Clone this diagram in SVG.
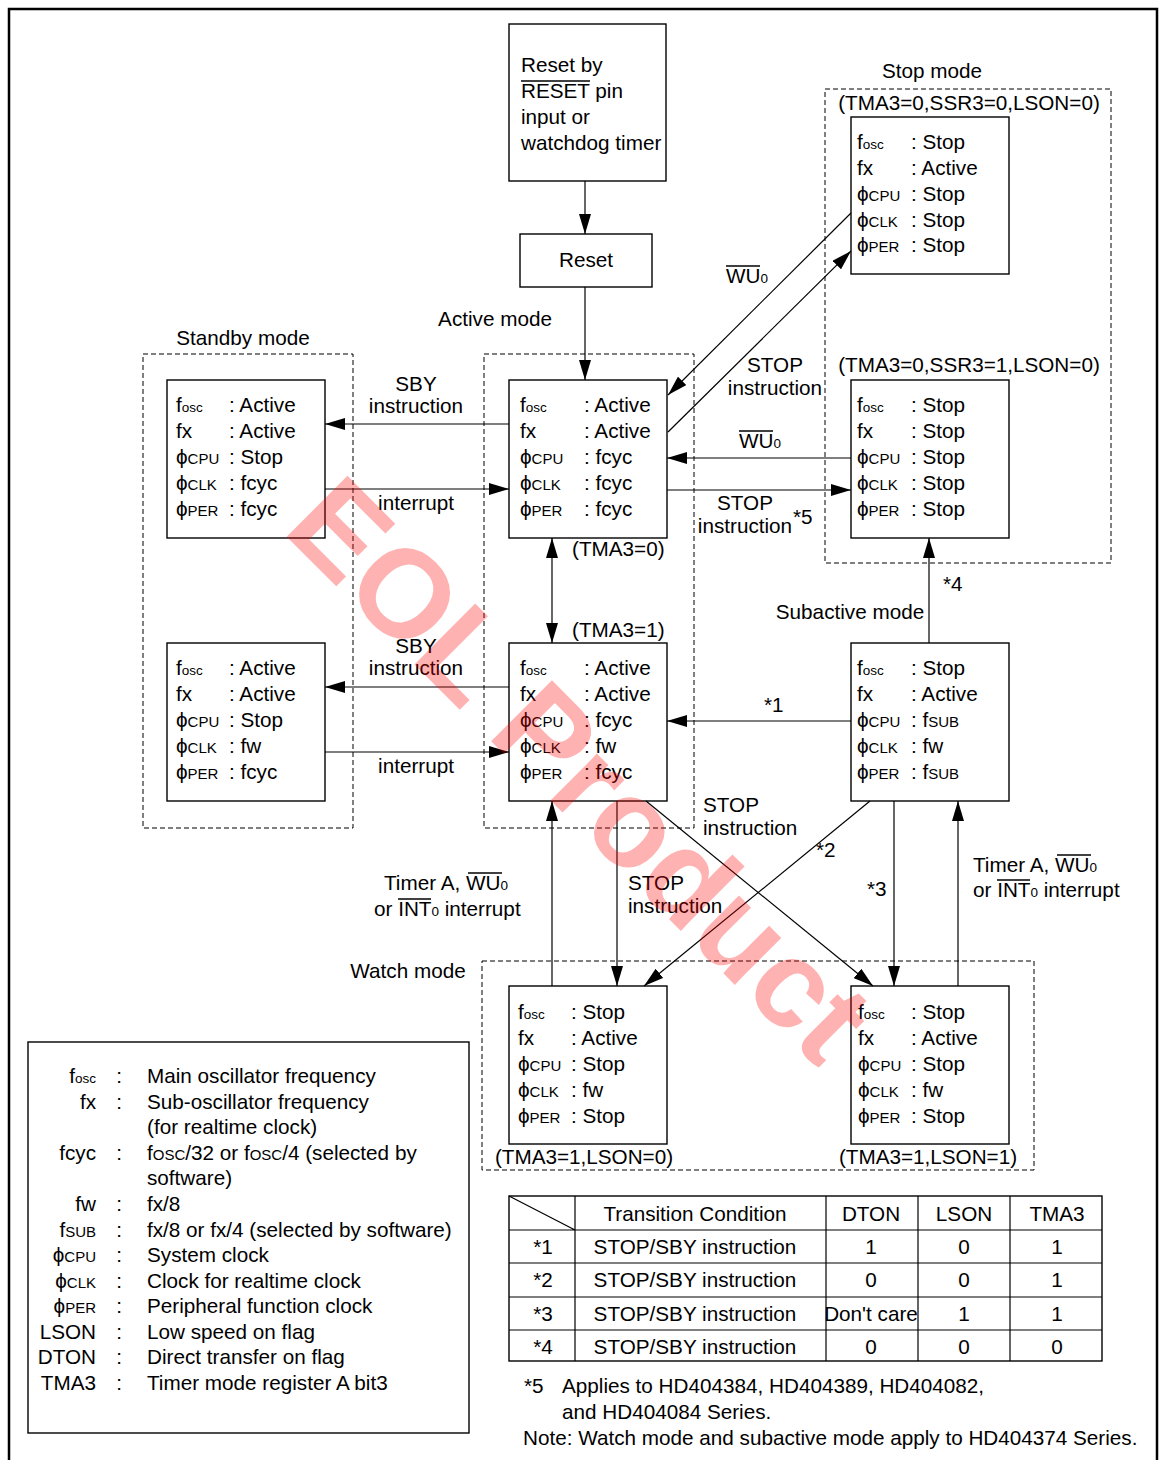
<svg xmlns="http://www.w3.org/2000/svg" width="1159" height="1460" viewBox="0 0 1159 1460">
<style>
text{font-family:"Liberation Sans",Arial,sans-serif;font-size:20.7px;fill:#000}
.s{font-size:13.5px}
.c{font-size:15px}
.m{text-anchor:middle}
.e{text-anchor:end}
.ov{fill:none;stroke:#000;stroke-width:1.3}
.box{fill:#fff;stroke:#000;stroke-width:1.4}
.dash{fill:none;stroke:#000;stroke-width:1;stroke-dasharray:5 3}
.ln{fill:none;stroke:#000;stroke-width:1.2}
.ar{marker-end:url(#ah)}
.wm{font-size:125px;font-weight:bold;fill:#ff0000;fill-opacity:0.3}
</style>
<defs>
<marker id="ah" markerUnits="userSpaceOnUse" markerWidth="20" markerHeight="12" viewBox="0 0 20 12" refX="20" refY="6" orient="auto-start-reverse"><path d="M0,0 L20,6 L0,12 z" fill="#000"/></marker>
</defs>
<rect width="1159" height="1460" fill="#fff"/>
<path d="M9,1460 V9 H1157 V1460" fill="none" stroke="#000" stroke-width="2.5"/>

<g id="mode-frames">
<rect class="dash" x="143" y="354" width="210" height="474"/>
<rect class="dash" x="484" y="354" width="210" height="474"/>
<rect class="dash" x="825" y="89" width="286" height="474"/>
<rect class="dash" x="482" y="961" width="552" height="209"/>
<text x="243" y="345" class="m">Standby mode</text>
<text x="495" y="326" class="m">Active mode</text>
<text x="932" y="78" class="m">Stop mode</text>
<text x="969" y="110" class="m">(TMA3=0,SSR3=0,LSON=0)</text>
<text x="969" y="372" class="m">(TMA3=0,SSR3=1,LSON=0)</text>
<text x="850" y="619" class="m">Subactive mode</text>
<text x="408" y="978" class="m">Watch mode</text>
<text x="584" y="1164" class="m">(TMA3=1,LSON=0)</text>
<text x="928" y="1164" class="m">(TMA3=1,LSON=1)</text>
<text x="572" y="556">(TMA3=0)</text>
<text x="572" y="637">(TMA3=1)</text>
</g>

<g id="reset-by">
<rect class="box" x="509" y="24" width="157" height="157"/>
<text x="521" y="72">Reset by</text>
<text x="521" y="98">RESET pin</text>
<line class="ov" x1="521" y1="81" x2="590" y2="81"/>
<text x="521" y="124">input or</text>
<text x="521" y="150">watchdog timer</text>
</g>

<g id="reset">
<rect class="box" x="520" y="234" width="132" height="53"/>
<text x="586" y="267" class="m">Reset</text>
</g>

<g id="standby-1">
<rect class="box" x="167" y="380" width="158" height="158"/>
<text x="176" y="412">f<tspan class="s">osc</tspan></text><text x="229" y="412">: Active</text>
<text x="176" y="438">fx</text><text x="229" y="438">: Active</text>
<text x="176" y="464">ϕ<tspan class="c">CPU</tspan></text><text x="229" y="464">: Stop</text>
<text x="176" y="490">ϕ<tspan class="c">CLK</tspan></text><text x="229" y="490">: fcyc</text>
<text x="176" y="516">ϕ<tspan class="c">PER</tspan></text><text x="229" y="516">: fcyc</text>
</g>

<g id="standby-2">
<rect class="box" x="167" y="643" width="158" height="158"/>
<text x="176" y="675">f<tspan class="s">osc</tspan></text><text x="229" y="675">: Active</text>
<text x="176" y="701">fx</text><text x="229" y="701">: Active</text>
<text x="176" y="727">ϕ<tspan class="c">CPU</tspan></text><text x="229" y="727">: Stop</text>
<text x="176" y="753">ϕ<tspan class="c">CLK</tspan></text><text x="229" y="753">: fw</text>
<text x="176" y="779">ϕ<tspan class="c">PER</tspan></text><text x="229" y="779">: fcyc</text>
</g>

<g id="active-1">
<rect class="box" x="509" y="380" width="158" height="158"/>
<text x="520" y="412">f<tspan class="s">osc</tspan></text><text x="584" y="412">: Active</text>
<text x="520" y="438">fx</text><text x="584" y="438">: Active</text>
<text x="520" y="464">ϕ<tspan class="c">CPU</tspan></text><text x="584" y="464">: fcyc</text>
<text x="520" y="490">ϕ<tspan class="c">CLK</tspan></text><text x="584" y="490">: fcyc</text>
<text x="520" y="516">ϕ<tspan class="c">PER</tspan></text><text x="584" y="516">: fcyc</text>
</g>

<g id="active-2">
<rect class="box" x="509" y="643" width="158" height="158"/>
<text x="520" y="675">f<tspan class="s">osc</tspan></text><text x="584" y="675">: Active</text>
<text x="520" y="701">fx</text><text x="584" y="701">: Active</text>
<text x="520" y="727">ϕ<tspan class="c">CPU</tspan></text><text x="584" y="727">: fcyc</text>
<text x="520" y="753">ϕ<tspan class="c">CLK</tspan></text><text x="584" y="753">: fw</text>
<text x="520" y="779">ϕ<tspan class="c">PER</tspan></text><text x="584" y="779">: fcyc</text>
</g>

<g id="stop-1">
<rect class="box" x="851" y="117" width="158" height="157"/>
<text x="857" y="149">f<tspan class="s">osc</tspan></text><text x="911" y="149">: Stop</text>
<text x="857" y="175">fx</text><text x="911" y="175">: Active</text>
<text x="857" y="201">ϕ<tspan class="c">CPU</tspan></text><text x="911" y="201">: Stop</text>
<text x="857" y="227">ϕ<tspan class="c">CLK</tspan></text><text x="911" y="227">: Stop</text>
<text x="857" y="252">ϕ<tspan class="c">PER</tspan></text><text x="911" y="252">: Stop</text>
</g>

<g id="stop-2">
<rect class="box" x="851" y="380" width="158" height="158"/>
<text x="857" y="412">f<tspan class="s">osc</tspan></text><text x="911" y="412">: Stop</text>
<text x="857" y="438">fx</text><text x="911" y="438">: Stop</text>
<text x="857" y="464">ϕ<tspan class="c">CPU</tspan></text><text x="911" y="464">: Stop</text>
<text x="857" y="490">ϕ<tspan class="c">CLK</tspan></text><text x="911" y="490">: Stop</text>
<text x="857" y="516">ϕ<tspan class="c">PER</tspan></text><text x="911" y="516">: Stop</text>
</g>

<g id="subactive">
<rect class="box" x="851" y="643" width="158" height="158"/>
<text x="857" y="675">f<tspan class="s">osc</tspan></text><text x="911" y="675">: Stop</text>
<text x="857" y="701">fx</text><text x="911" y="701">: Active</text>
<text x="857" y="727">ϕ<tspan class="c">CPU</tspan></text><text x="911" y="727">: f<tspan class="c">SUB</tspan></text>
<text x="857" y="753">ϕ<tspan class="c">CLK</tspan></text><text x="911" y="753">: fw</text>
<text x="857" y="779">ϕ<tspan class="c">PER</tspan></text><text x="911" y="779">: f<tspan class="c">SUB</tspan></text>
</g>

<g id="watch-1">
<rect class="box" x="509" y="986" width="158" height="158"/>
<text x="518" y="1019">f<tspan class="s">osc</tspan></text><text x="571" y="1019">: Stop</text>
<text x="518" y="1045">fx</text><text x="571" y="1045">: Active</text>
<text x="518" y="1071">ϕ<tspan class="c">CPU</tspan></text><text x="571" y="1071">: Stop</text>
<text x="518" y="1097">ϕ<tspan class="c">CLK</tspan></text><text x="571" y="1097">: fw</text>
<text x="518" y="1123">ϕ<tspan class="c">PER</tspan></text><text x="571" y="1123">: Stop</text>
</g>

<g id="watch-2">
<rect class="box" x="851" y="986" width="158" height="158"/>
<text x="858" y="1019">f<tspan class="s">osc</tspan></text><text x="911" y="1019">: Stop</text>
<text x="858" y="1045">fx</text><text x="911" y="1045">: Active</text>
<text x="858" y="1071">ϕ<tspan class="c">CPU</tspan></text><text x="911" y="1071">: Stop</text>
<text x="858" y="1097">ϕ<tspan class="c">CLK</tspan></text><text x="911" y="1097">: fw</text>
<text x="858" y="1123">ϕ<tspan class="c">PER</tspan></text><text x="911" y="1123">: Stop</text>
</g>

<g id="connectors">
<line class="ln ar" x1="585" y1="181" x2="585" y2="234"/>
<line class="ln ar" x1="585" y1="287" x2="585" y2="380"/>
<line class="ln ar" x1="509" y1="424" x2="325" y2="424"/>
<line class="ln ar" x1="325" y1="489" x2="509" y2="489"/>
<line class="ln ar" x1="509" y1="687" x2="325" y2="687"/>
<line class="ln ar" x1="325" y1="752" x2="509" y2="752"/>
<line class="ln ar" x1="552" y1="538" x2="552" y2="643" marker-start="url(#ah)"/>
<line class="ln ar" x1="851" y1="213" x2="668" y2="395"/>
<line class="ln ar" x1="668" y1="432" x2="851" y2="251"/>
<line class="ln ar" x1="851" y1="458" x2="667" y2="458"/>
<line class="ln ar" x1="667" y1="490" x2="851" y2="490"/>
<line class="ln ar" x1="929" y1="643" x2="929" y2="538"/>
<line class="ln ar" x1="851" y1="721" x2="667" y2="721"/>
<line class="ln ar" x1="552" y1="986" x2="552" y2="801"/>
<line class="ln ar" x1="617" y1="801" x2="617" y2="986"/>
<line class="ln ar" x1="646" y1="801" x2="873" y2="986"/>
<line class="ln ar" x1="870" y1="801" x2="644" y2="986"/>
<line class="ln ar" x1="894" y1="801" x2="894" y2="986"/>
<line class="ln ar" x1="958" y1="986" x2="958" y2="801"/>
<text x="416" y="391" class="m">SBY</text>
<text x="416" y="413" class="m">instruction</text>
<text x="416" y="510" class="m">interrupt</text>
<text x="416" y="653" class="m">SBY</text>
<text x="416" y="675" class="m">instruction</text>
<text x="416" y="773" class="m">interrupt</text>
<text x="726" y="283">WU<tspan class="s">0</tspan></text>
<line class="ov" x1="726" y1="266" x2="760" y2="266"/>
<text x="775" y="372" class="m">STOP</text>
<text x="775" y="395" class="m">instruction</text>
<text x="739" y="448">WU<tspan class="s">0</tspan></text>
<line class="ov" x1="739" y1="431" x2="773" y2="431"/>
<text x="745" y="510" class="m">STOP</text>
<text x="745" y="533" class="m">instruction</text>
<text x="793" y="524">*5</text>
<text x="943" y="591">*4</text>
<text x="764" y="712">*1</text>
<text x="703" y="812">STOP</text>
<text x="703" y="835">instruction</text>
<text x="816" y="857">*2</text>
<text x="867" y="896">*3</text>
<text x="628" y="890">STOP</text>
<text x="628" y="913">instruction</text>
<text x="384" y="890">Timer A, WU<tspan class="s">0</tspan></text>
<line class="ov" x1="468" y1="873" x2="502" y2="873"/>
<text x="374" y="916">or INT<tspan class="s">0</tspan> interrupt</text>
<line class="ov" x1="398" y1="899" x2="431" y2="899"/>
<text x="973" y="872">Timer A, WU<tspan class="s">0</tspan></text>
<line class="ov" x1="1057" y1="855" x2="1091" y2="855"/>
<text x="973" y="897">or INT<tspan class="s">0</tspan> interrupt</text>
<line class="ov" x1="997" y1="880" x2="1030" y2="880"/>
</g>

<g id="legend">
<rect class="box" x="28" y="1042" width="441" height="391"/>
<text x="96" y="1083" class="e">f<tspan class="s">osc</tspan></text><text x="119" y="1083" class="m">:</text><text x="147" y="1083">Main oscillator frequency</text>
<text x="96" y="1109" class="e">fx</text><text x="119" y="1109" class="m">:</text><text x="147" y="1109">Sub-oscillator frequency</text>
<text x="147" y="1134">(for realtime clock)</text>
<text x="96" y="1160" class="e">fcyc</text><text x="119" y="1160" class="m">:</text><text x="147" y="1160">f<tspan class="c">OSC</tspan>/32 or f<tspan class="c">OSC</tspan>/4 (selected by</text>
<text x="147" y="1185">software)</text>
<text x="96" y="1211" class="e">fw</text><text x="119" y="1211" class="m">:</text><text x="147" y="1211">fx/8</text>
<text x="96" y="1237" class="e">f<tspan class="c">SUB</tspan></text><text x="119" y="1237" class="m">:</text><text x="147" y="1237">fx/8 or fx/4 (selected by software)</text>
<text x="96" y="1262" class="e">ϕ<tspan class="c">CPU</tspan></text><text x="119" y="1262" class="m">:</text><text x="147" y="1262">System clock</text>
<text x="96" y="1288" class="e">ϕ<tspan class="c">CLK</tspan></text><text x="119" y="1288" class="m">:</text><text x="147" y="1288">Clock for realtime clock</text>
<text x="96" y="1313" class="e">ϕ<tspan class="c">PER</tspan></text><text x="119" y="1313" class="m">:</text><text x="147" y="1313">Peripheral function clock</text>
<text x="96" y="1339" class="e">LSON</text><text x="119" y="1339" class="m">:</text><text x="147" y="1339">Low speed on flag</text>
<text x="96" y="1364" class="e">DTON</text><text x="119" y="1364" class="m">:</text><text x="147" y="1364">Direct transfer on flag</text>
<text x="96" y="1390" class="e">TMA3</text><text x="119" y="1390" class="m">:</text><text x="147" y="1390">Timer mode register A bit3</text>
</g>

<g id="table">
<rect x="509" y="1196" width="593" height="165" fill="#fff" stroke="#000" stroke-width="1.4"/>
<path class="ln" d="M509,1230 H1102 M509,1263 H1102 M509,1297 H1102 M509,1330 H1102 M575,1196 V1361 M826,1196 V1361 M918,1196 V1361 M1010,1196 V1361 M509,1196 L575,1230"/>
<text x="695" y="1221" class="m">Transition Condition</text>
<text x="871" y="1221" class="m">DTON</text>
<text x="964" y="1221" class="m">LSON</text>
<text x="1057" y="1221" class="m">TMA3</text>
<text x="543" y="1254" class="m">*1</text><text x="695" y="1254" class="m">STOP/SBY instruction</text><text x="871" y="1254" class="m">1</text><text x="964" y="1254" class="m">0</text><text x="1057" y="1254" class="m">1</text>
<text x="543" y="1287" class="m">*2</text><text x="695" y="1287" class="m">STOP/SBY instruction</text><text x="871" y="1287" class="m">0</text><text x="964" y="1287" class="m">0</text><text x="1057" y="1287" class="m">1</text>
<text x="543" y="1321" class="m">*3</text><text x="695" y="1321" class="m">STOP/SBY instruction</text><text x="871" y="1321" class="m">Don't care</text><text x="964" y="1321" class="m">1</text><text x="1057" y="1321" class="m">1</text>
<text x="543" y="1354" class="m">*4</text><text x="695" y="1354" class="m">STOP/SBY instruction</text><text x="871" y="1354" class="m">0</text><text x="964" y="1354" class="m">0</text><text x="1057" y="1354" class="m">0</text>
</g>

<g id="notes">
<text x="524" y="1393">*5</text>
<text x="562" y="1393">Applies to HD404384, HD404389, HD404082,</text>
<text x="562" y="1419">and HD404084 Series.</text>
<text x="523" y="1445">Note: Watch mode and subactive mode apply to HD404374 Series.</text>
</g>

<g id="watermark">
<text class="wm m" transform="translate(550,800) rotate(45)">EOL Product</text>
</g>
</svg>
